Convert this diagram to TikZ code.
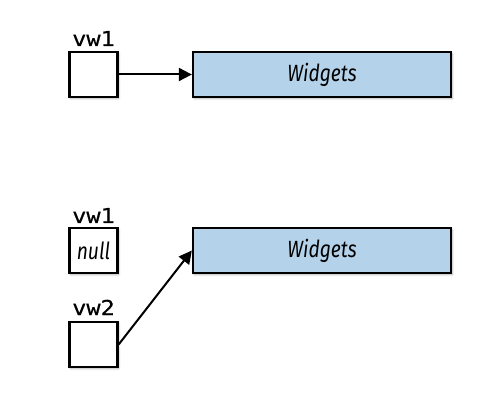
\documentclass[tikz,border=0pt]{standalone}
\usepackage{fontspec}
\setmainfont{Fira Sans}
\newfontfamily\labelfont[FakeStretch=1.15,FakeBold=0.6]{DejaVu Sans Mono}
\newfontfamily\boxfont[FakeStretch=0.82]{Fira Sans}
\usetikzlibrary{arrows.meta,shadows.blur}
\definecolor{wblue}{RGB}{180,211,234}
\begin{document}
\begin{tikzpicture}[x=1pt,y=-1pt,
  shad/.style={blur shadow={shadow xshift=1.2pt,shadow yshift=-1.5pt,shadow blur radius=2pt,shadow opacity=35}},
  refbox/.style={draw=black,line width=2.3pt,fill=white,minimum width=48pt,minimum height=45pt,inner sep=0pt,shad},
  objbox/.style={draw=black,line width=2.3pt,fill=wblue,minimum width=258pt,minimum height=45pt,inner sep=0pt,shad},
  lbl/.style={font=\labelfont\fontsize{20.5}{20.5}\selectfont,inner sep=0pt,anchor=base},
  ptr/.style={line width=2pt,-{Triangle[length=13pt,width=13pt]}}]
\useasboundingbox (0,0) rectangle (503,403);
% top
\node[refbox] (r1) at (93.5,74.5) {};
\node[lbl] (l1) at (93.5,46) {vw1};
\node[objbox] (w1) at (322,74.5) {\boxfont\itshape\fontsize{23.5}{23.5}\selectfont Widgets};
\draw[ptr] (r1.east) -- (w1.west);
% bottom
\node[refbox] (r2) at (93.5,250.5) {\boxfont\itshape\fontsize{23.5}{23.5}\selectfont null};
\node[lbl] (l2) at (93.5,223) {vw1};
\node[objbox] (w2) at (322,250.5) {\boxfont\itshape\fontsize{23.5}{23.5}\selectfont Widgets};
\node[refbox] (r3) at (93.5,344.5) {};
\node[lbl] (l3) at (93.5,315) {vw2};
\draw[ptr] (r3.east) -- (w2.west);
\end{tikzpicture}
\end{document}
